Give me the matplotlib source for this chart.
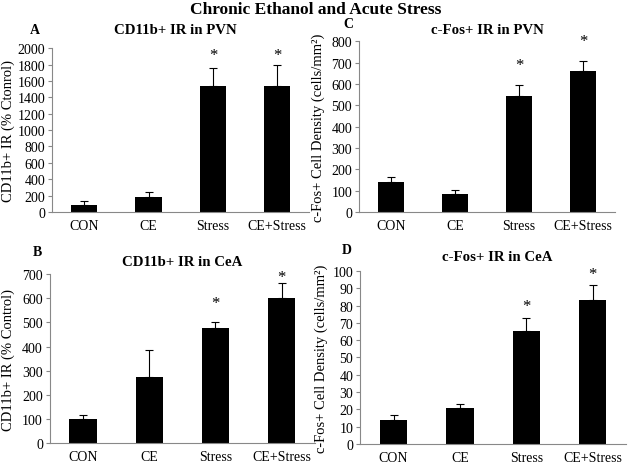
import matplotlib
matplotlib.use('Agg')
import matplotlib.pyplot as plt

plt.rcParams['font.family'] = ['Liberation Serif', 'DejaVu Serif']

groups = ['CON', 'CE', 'Stress', 'CE+Stress']

# panel A: CD11b+ IR in PVN
cd11b_pvn = [90, 185, 1535, 1535]
cd11b_pvn_err = [50, 55, 225, 265]
# panel B: CD11b+ IR in CeA
cd11b_cea = [100, 272, 478, 600]
cd11b_cea_err = [15, 115, 25, 65]
# panel C: c-Fos+ IR in PVN
cfos_pvn = [140, 83, 545, 660]
cfos_pvn_err = [25, 20, 52, 47]
# panel D: c-Fos+ IR in CeA
cfos_cea = [14, 20.5, 65.5, 83]
cfos_cea_err = [2.5, 2.5, 7, 9]

# asterisk heights (significant groups only)
star_a = [None, None, 1920, 1920]
star_b = [None, None, 580, 690]
star_c = [None, None, 690, 800]
star_d = [None, None, 80, 98]

fig = plt.figure(figsize=(6.31, 4.64), dpi=100)

def panel(rect, vals, errs, stars, ymax, step, title, ylabel, letter, letter_xy, title_xy, ylab_x):
	ax = fig.add_axes(rect)
	x = range(len(groups))
	ax.bar(x, vals, width=0.41, color='black', zorder=2)
	ax.errorbar(x, vals, yerr=[[0]*len(errs), errs], fmt='none', ecolor='black',
				elinewidth=0.8, capsize=3, capthick=0.8, zorder=3)
	for i, s in enumerate(stars):
		if s is not None:
			ax.text(i, s, '*', ha='center', va='center', fontsize=12)
	ax.set_xlim(-0.5, len(groups) - 0.5)
	ax.set_ylim(0, ymax)
	ax.set_yticks(range(0, ymax + 1, step))
	ax.set_xticks(list(x))
	ax.set_xticklabels(groups)
	ax.tick_params(axis='x', length=0, pad=5, labelsize=10)
	ax.tick_params(axis='y', length=3, width=0.8, color='#888888', pad=2, labelsize=10)
	for side in ['top', 'right']:
		ax.spines[side].set_visible(False)
	for side in ['left', 'bottom']:
		ax.spines[side].set_color('#888888')
		ax.spines[side].set_linewidth(0.8)
	fig.text(letter_xy[0] / 631, 1 - letter_xy[1] / 464, letter, ha='center', va='center',
			 fontsize=10, fontweight='bold')
	fig.text(title_xy[0] / 631, 1 - title_xy[1] / 464, title, ha='center', va='center',
			 fontsize=10.7, fontweight='bold')
	fig.text(ylab_x / 631, rect[1] + rect[3] / 2, ylabel,
			 ha='center', va='center', rotation=90, fontsize=10.5)
	return ax

panel([0.0824, 0.541, 0.408, 0.353], cd11b_pvn, cd11b_pvn_err, star_a, 2000, 200,
	  'CD11b+ IR in PVN', 'CD11b+ IR (% Ctonrol)', 'A', (35, 30), (175, 31), 8)
panel([0.569, 0.541, 0.406, 0.368], cfos_pvn, cfos_pvn_err, star_c, 800, 100,
	  'c-Fos+ IR in PVN', 'c-Fos+ Cell Density (cells/mm²)', 'C', (348, 24), (487, 30), 318)
panel([0.079, 0.043, 0.42, 0.364], cd11b_cea, cd11b_cea_err, star_b, 700, 100,
	  'CD11b+ IR in CeA', 'CD11b+ IR (% Control)', 'B', (37, 253), (182, 262), 8)
panel([0.571, 0.041, 0.421, 0.373], cfos_cea, cfos_cea_err, star_d, 100, 10,
	  'c-Fos+ IR in CeA', 'c-Fos+ Cell Density (cells/mm²)', 'D', (347, 250), (497, 258), 321)

fig.text(0.5, 1 - 10 / 464, 'Chronic Ethanol and Acute Stress', ha='center', va='center',
		 fontsize=12.5, fontweight='bold')

fig.savefig('out.png', dpi=100)
